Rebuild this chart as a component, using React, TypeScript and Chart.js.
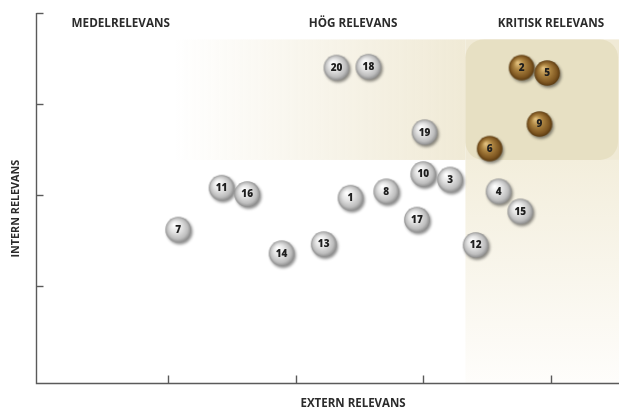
import React, { useEffect, useRef } from "react";
import { Chart, registerables } from "chart.js";

Chart.register(...registerables);

// ---- data ----
const topicIds = ["1", "2", "3", "4", "5", "6", "7", "8", "9", "10", "11", "12", "13", "14", "15", "16", "17", "18", "19", "20"];
const externValues = [2.43, 3.77, 3.21, 3.59, 3.97, 3.52, 1.08, 2.71, 3.91, 3.0, 1.42, 3.41, 2.22, 1.89, 3.76, 1.62, 2.95, 2.57, 3.01, 2.32];
const internValues = [1.97, 3.4, 2.17, 2.04, 3.34, 2.51, 1.62, 2.04, 2.78, 2.23, 2.08, 1.45, 1.46, 1.36, 1.82, 2.01, 1.73, 3.41, 2.69, 3.4];
const criticalIds = ["2", "5", "6", "9"];
const xTickValues = [1, 2, 3, 4];
const yTickValues = [1, 2, 3, 4];
const zoneLabels = ["MEDELRELEVANS", "HÖG RELEVANS", "KRITISK RELEVANS"];
const zoneLabelX = [0.63, 2.45, 4.0];
const zoneLabelY = 3.88;
const xTitle = "EXTERN RELEVANS";
const yTitle = "INTERN RELEVANS";
const xTitleCenter = 2.45;
const yTitleCenter = 1.85;
// zone bounds (data units)
const highZoneStartX = 1.04;
const zoneTopY = 3.71;
const zoneBottomY = 2.385;
const criticalStartX = 3.33;
// axis ranges
const xMin = -0.034;
const xMax = 4.533;
const yMin = -0.066;
const yMax = 4.0;

function makeBall(gold: boolean): HTMLCanvasElement {
  const c = document.createElement("canvas");
  c.width = 36;
  c.height = 36;
  const g = c.getContext("2d")!;
  const cx = 18, cy = 18, r = 12.8;
  g.save();
  g.shadowColor = "rgba(0,0,0,0.45)";
  g.shadowBlur = 3;
  g.shadowOffsetX = 1.5;
  g.shadowOffsetY = 2;
  const grad = g.createRadialGradient(cx - 4, cy - 5, 0.5, cx, cy, r);
  if (gold) {
    grad.addColorStop(0, "#e2c07e");
    grad.addColorStop(0.4, "#ad8542");
    grad.addColorStop(0.8, "#805822");
    grad.addColorStop(1, "#5a3a10");
  } else {
    grad.addColorStop(0, "#ffffff");
    grad.addColorStop(0.45, "#e3e3e3");
    grad.addColorStop(0.8, "#bebebe");
    grad.addColorStop(1, "#8c8c8c");
  }
  g.beginPath();
  g.arc(cx, cy, r, 0, Math.PI * 2);
  g.fillStyle = grad;
  g.fill();
  g.restore();
  return c;
}

function buildPoints(gold: boolean) {
  const pts: { x: number; y: number; label: string }[] = [];
  topicIds.forEach((id, i) => {
    const isGold = criticalIds.includes(id);
    if (isGold === gold) pts.push({ x: externValues[i], y: internValues[i], label: id });
  });
  pts.sort((a, b) => a.x - b.x);
  return pts;
}

const FONT = "'Open Sans', 'Lato', sans-serif";

const matrixPlugin = {
  id: "matrixDecor",
  beforeDatasetsDraw(chart: any) {
    const { ctx, chartArea, scales } = chart;
    const xs = scales.x, ys = scales.y;
    const right = chartArea.right;
    const top = ys.getPixelForValue(zoneTopY);
    const mid = ys.getPixelForValue(zoneBottomY);
    const bottom = chartArea.bottom;
    const hx = xs.getPixelForValue(highZoneStartX);
    const kx = xs.getPixelForValue(criticalStartX);
    ctx.save();
    // high relevance band (horizontal gradient)
    const hg = ctx.createLinearGradient(hx, 0, kx, 0);
    hg.addColorStop(0, "rgba(240,234,214,0)");
    hg.addColorStop(1, "rgba(240,234,214,1)");
    ctx.fillStyle = hg;
    ctx.fillRect(hx, top, kx - hx, mid - top);
    ctx.fillStyle = "#f0ead6";
    ctx.fillRect(kx, top, right - kx, mid - top);
    // critical lower band (vertical gradient)
    const vg = ctx.createLinearGradient(0, mid, 0, bottom);
    vg.addColorStop(0, "#f3eedc");
    vg.addColorStop(1, "#fefdfb");
    ctx.fillStyle = vg;
    ctx.fillRect(kx, mid, right - kx, bottom - mid);
    // critical zone rounded rect
    ctx.beginPath();
    (ctx as any).roundRect(kx, top, right - kx - 1, mid - top, 18);
    ctx.fillStyle = "#e7e0c3";
    ctx.fill();

    // axes
    ctx.strokeStyle = "#5a5a5a";
    ctx.lineWidth = 1.4;
    const ax = chartArea.left + 0.5;
    const ay = Math.round(bottom) + 0.5;
    ctx.beginPath();
    ctx.moveTo(ax, chartArea.top);
    ctx.lineTo(ax, ay);
    ctx.lineTo(right, ay);
    ctx.stroke();
    yTickValues.forEach((v) => {
      const py = Math.round(ys.getPixelForValue(v)) + 0.5;
      ctx.beginPath();
      ctx.moveTo(ax, py);
      ctx.lineTo(ax + 7, py);
      ctx.stroke();
    });
    xTickValues.forEach((v) => {
      const px = Math.round(xs.getPixelForValue(v)) + 0.5;
      ctx.beginPath();
      ctx.moveTo(px, ay);
      ctx.lineTo(px, ay - 8);
      ctx.stroke();
    });

    // zone labels
    ctx.fillStyle = "#2b2b2b";
    ctx.font = `bold 11.7px ${FONT}`;
    ctx.textAlign = "center";
    ctx.textBaseline = "middle";
    zoneLabels.forEach((t, i) => {
      ctx.fillText(t, xs.getPixelForValue(zoneLabelX[i]), ys.getPixelForValue(zoneLabelY));
    });
    // axis titles
    ctx.font = `bold 11.5px ${FONT}`;
    ctx.fillText(xTitle, xs.getPixelForValue(xTitleCenter), bottom + 21);
    ctx.save();
    ctx.font = `bold 10.8px ${FONT}`;
    ctx.translate(16, ys.getPixelForValue(yTitleCenter));
    ctx.rotate(-Math.PI / 2);
    ctx.fillText(yTitle, 0, 0);
    ctx.restore();
    ctx.restore();
  },
  afterDatasetsDraw(chart: any) {
    const { ctx } = chart;
    ctx.save();
    ctx.font = `800 10px ${FONT}`;
    ctx.textAlign = "center";
    ctx.textBaseline = "middle";
    ctx.fillStyle = "#1e1e1e";
    chart.data.datasets.forEach((ds: any, di: number) => {
      const meta = chart.getDatasetMeta(di);
      meta.data.forEach((el: any, i: number) => {
        ctx.fillText(ds.data[i].label, el.x, el.y + 0.5);
      });
    });
    ctx.restore();
  },
};

export default function App() {
  const ref = useRef<HTMLCanvasElement | null>(null);
  useEffect(() => {
    document.body.style.margin = "0";
    const silver = makeBall(false);
    const gold = makeBall(true);
    const chart = new Chart(ref.current!, {
      type: "scatter",
      data: {
        datasets: [
          {
            label: "Kritisk",
            data: buildPoints(true) as any,
            pointStyle: gold as any,
            pointRadius: 13,
            pointHoverRadius: 13,
          },
          {
            label: "Övriga",
            data: buildPoints(false) as any,
            pointStyle: silver as any,
            pointRadius: 13,
            pointHoverRadius: 13,
          },
        ],
      },
      options: {
        animation: false,
        responsive: false,
        events: [],
        layout: { autoPadding: false, padding: { left: 36, right: 0, top: 13, bottom: 24 } },
        plugins: { legend: { display: false }, tooltip: { enabled: false } },
        scales: {
          x: { type: "linear", min: xMin, max: xMax, display: false },
          y: { type: "linear", min: yMin, max: yMax, display: false },
        },
      },
      plugins: [matrixPlugin],
    });
    return () => chart.destroy();
  }, []);
  return (
    <div style={{ position: "fixed", left: 0, top: 0, width: 619, height: 407, background: "#fff" }}>
      <canvas ref={ref} width={619} height={407} />
    </div>
  );
}
